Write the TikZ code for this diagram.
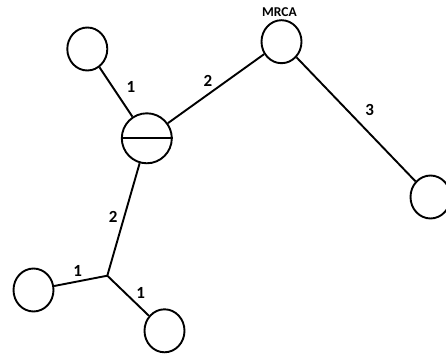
\documentclass[tikz,border=0pt]{standalone}
\usepackage{fontspec}
\setmainfont{Carlito}
\usetikzlibrary{shapes.geometric}
\begin{document}
\begin{tikzpicture}[x=1pt,y=-1pt,
  taxon/.style={draw, ellipse, line width=1.9pt, minimum width=40pt, minimum height=43pt, inner sep=0pt},
  split/.style={draw, circle, line width=1.9pt, minimum size=50pt, inner sep=0pt},
  branch/.style={line width=1.9pt},
  blen/.style={font=\bfseries\fontsize{17}{17}\selectfont, inner sep=0pt},
  tag/.style={font=\bfseries\fontsize{13.5}{13.5}\selectfont, inner sep=0pt}]
\useasboundingbox (0,0) rectangle (446,355);
\node[taxon] (tl) at (87.3,49) {};
\node[taxon] (mrca) at (281.5,41.7) {};
\node[split] (mid) at (146.8,138.3) {};
\draw[line width=1.7pt] (mid.west) -- (mid.east);
\node[taxon] (right) at (430.5,197) {};
\node[taxon] (bl) at (33.5,290) {};
\node[taxon] (bot) at (164.5,330.8) {};
\coordinate (j) at (107.3,275.7);
\node[tag] (mrcalabel) at (279.5,12) {MRCA};
\draw[branch] (tl) -- (mid);
\draw[branch] (mid) -- (mrca);
\draw[branch] (mrca) -- (right);
\draw[branch] (mid) -- (j);
\draw[branch] (j) -- (bl);
\draw[branch] (j) -- (bot);
\node[blen] (l1) at (131,86.7) {1};
\node[blen] (l2) at (208,81.3) {2};
\node[blen] (l3) at (369.7,109.7) {3};
\node[blen] (l4) at (113.3,217.3) {2};
\node[blen] (l5) at (77.7,270.7) {1};
\node[blen] (l6) at (140.7,292.7) {1};
\end{tikzpicture}
\end{document}
